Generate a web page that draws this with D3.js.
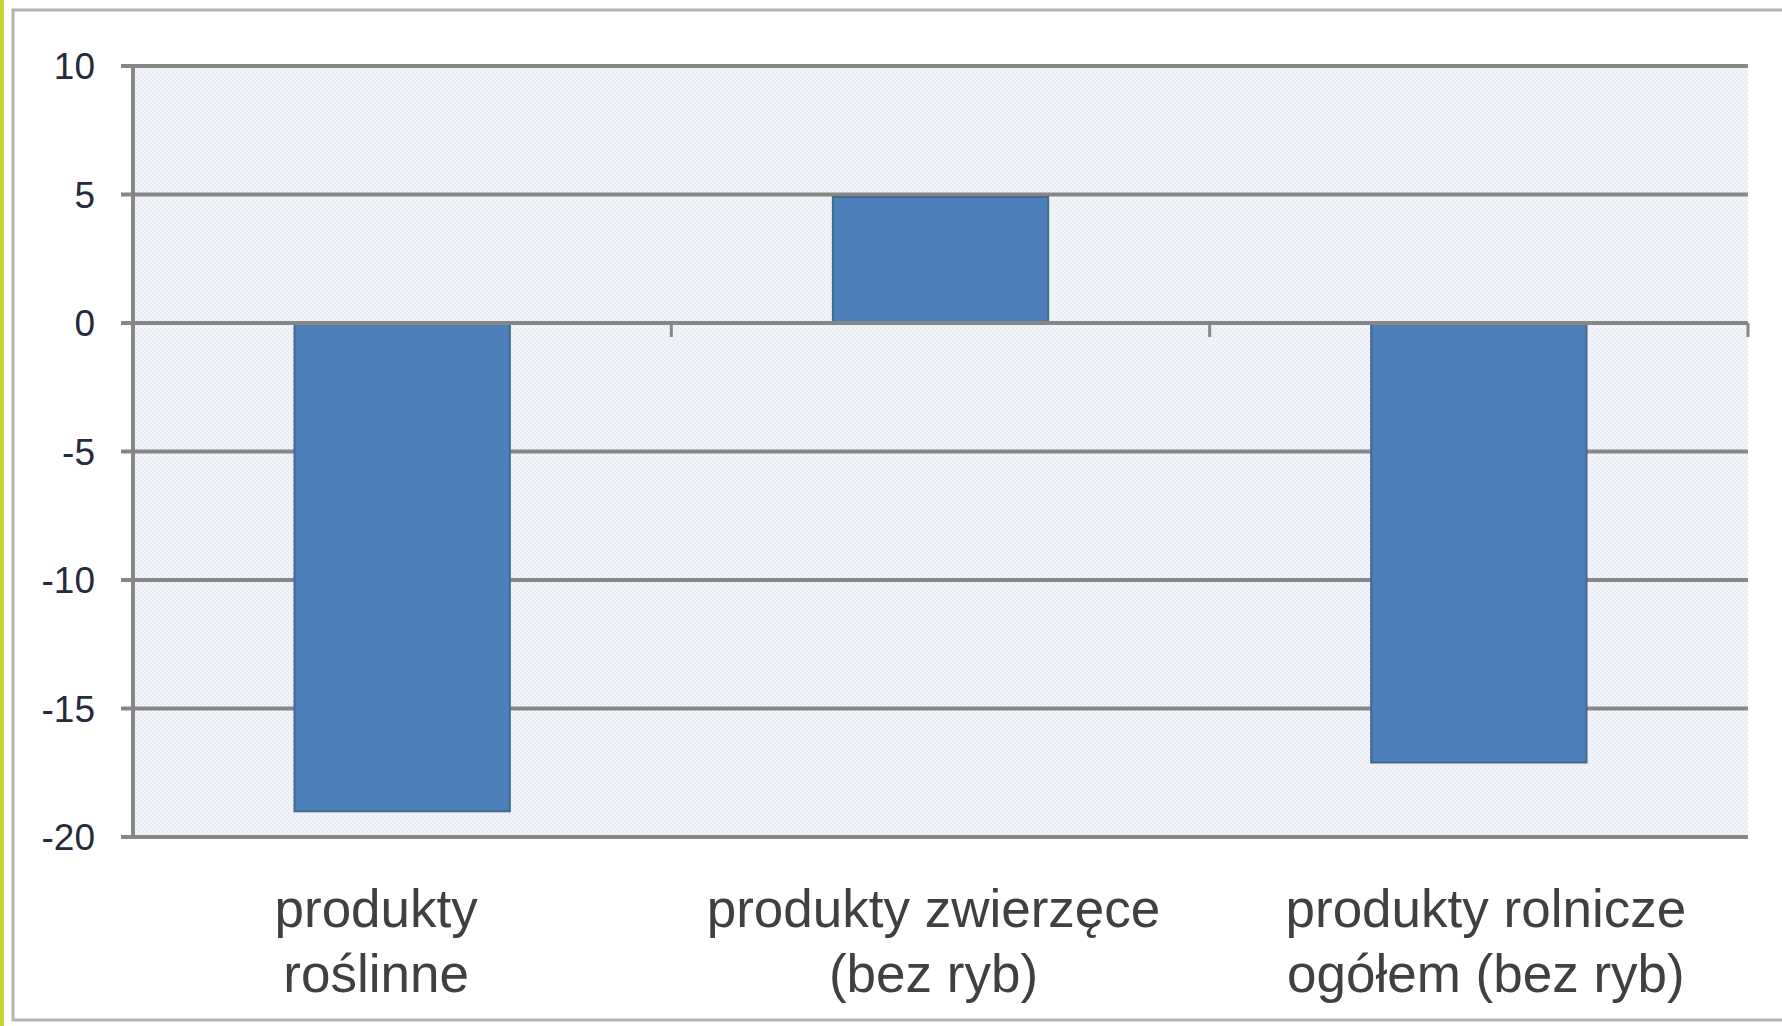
<!DOCTYPE html>
<html>
<head>
<meta charset="utf-8">
<script src="https://cdn.jsdelivr.net/npm/d3@7"></script>
<style>
  html, body { margin: 0; padding: 0; background: #ffffff; }
  svg { display: block; }
</style>
</head>
<body>
<svg id="chart" width="1782" height="1026"></svg>
<script>
const categories = ["produkty roślinne", "produkty zwierzęce (bez ryb)", "produkty rolnicze ogółem (bez ryb)"];
const categoryLines = [["produkty", "roślinne"], ["produkty zwierzęce", "(bez ryb)"], ["produkty rolnicze", "ogółem (bez ryb)"]];
const values = [-19, 4.9, -17.1];
const yTicks = [10, 5, 0, -5, -10, -15, -20];

const W = 1782, H = 1026;
const margin = { left: 133, right: 34 };
const labelShift = [-26, -7, 7];
const svg = d3.select("#chart");

// frame
svg.append("rect").attr("x", 0).attr("y", 0).attr("width", 4).attr("height", H).attr("fill", "#c3d22e");
svg.append("rect").attr("x", 13).attr("y", 10).attr("width", W - 10).attr("height", 1010)
  .attr("fill", "none").attr("stroke", "#b3b3b3").attr("stroke-width", 3);

// texture pattern
const defs = svg.append("defs");
const pat = defs.append("pattern").attr("id", "dots").attr("patternUnits", "userSpaceOnUse")
  .attr("width", 4).attr("height", 4);
pat.append("rect").attr("width", 4).attr("height", 4).attr("fill", "#f1f4f9");
pat.append("rect").attr("x", 0).attr("y", 0).attr("width", 1.5).attr("height", 1.5).attr("fill", "#dfe4ee");
pat.append("rect").attr("x", 2).attr("y", 2).attr("width", 1.5).attr("height", 1.5).attr("fill", "#e6eaf2");

const x0 = margin.left, x1 = W - margin.right;
const y = d3.scaleLinear().domain([-20, 10]).range([837, 66]);
const x = d3.scaleBand().domain(categories).range([x0, x1]).paddingInner(0.6).paddingOuter(0.3);

// plot background
svg.append("rect").attr("x", x0).attr("y", y(10)).attr("width", x1 - x0).attr("height", y(-20) - y(10))
  .attr("fill", "url(#dots)");

// y-axis labels
const gAxis = svg.append("g").attr("transform", `translate(${x0},0)`)
  .call(d3.axisLeft(y).tickValues(yTicks).tickSize(12).tickPadding(26).tickFormat(d => String(d)));
gAxis.select(".domain").remove();
gAxis.selectAll(".tick line").remove();
gAxis.selectAll(".tick text").attr("font-family", "'Liberation Sans', Arial, sans-serif")
  .attr("font-size", 37).attr("fill", "#252b3b").attr("dy", "0.35em");

// gridlines
svg.append("g").selectAll("line.grid").data(yTicks).join("line")
  .attr("x1", x0 - 12).attr("x2", x1)
  .attr("y1", d => y(d)).attr("y2", d => y(d))
  .attr("stroke", "#878787").attr("stroke-width", 4);

// left axis line
svg.append("line").attr("x1", x0).attr("x2", x0).attr("y1", y(10)).attr("y2", y(-20))
  .attr("stroke", "#878787").attr("stroke-width", 4);

// bars
svg.append("g").selectAll("rect.bar").data(values).join("rect")
  .attr("x", (d, i) => x(categories[i]))
  .attr("width", x.bandwidth())
  .attr("y", d => y(Math.max(0, d)))
  .attr("height", d => Math.abs(y(d) - y(0)))
  .attr("fill", "#4d7fba")
  .attr("stroke", "#41698f").attr("stroke-width", 2);

// category tick marks on zero line
const step = x.step();
const bounds = categories.map((c, i) => x0 + step * (i + 1));
svg.append("g").selectAll("line.ct").data(bounds).join("line")
  .attr("x1", d => d).attr("x2", d => d)
  .attr("y1", y(0)).attr("y2", y(0) + 14)
  .attr("stroke", "#878787").attr("stroke-width", 3);
// zero line on top of bars
svg.append("line").attr("x1", x0).attr("x2", x1).attr("y1", y(0)).attr("y2", y(0))
  .attr("stroke", "#878787").attr("stroke-width", 4);

// category labels
const lab = svg.append("g").selectAll("text.cat").data(categories).join("text")
  .attr("text-anchor", "middle")
  .attr("font-family", "'Liberation Sans', Arial, sans-serif")
  .attr("font-size", 53).attr("fill", "#404040");
lab.each(function(c, i) {
  const t = d3.select(this);
  const cx = x(c) + x.bandwidth() / 2 + labelShift[i];
  categoryLines[i].forEach((line, j) => {
    t.append("tspan").attr("x", cx).attr("y", 927 + j * 65).text(line);
  });
});
</script>
</body>
</html>
